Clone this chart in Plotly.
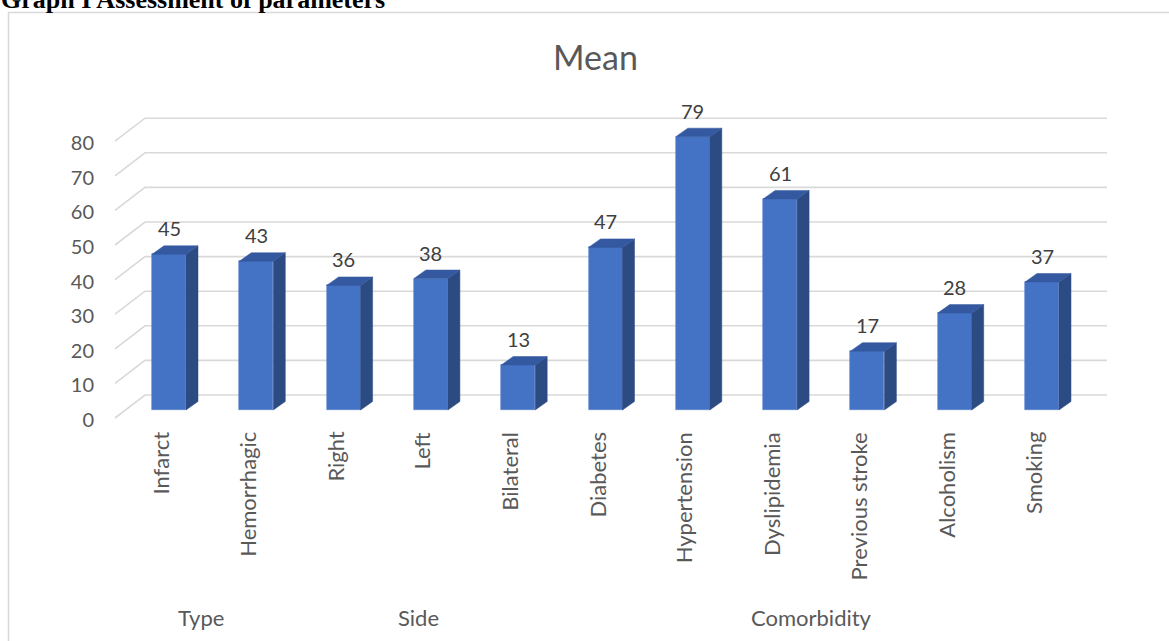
import plotly.graph_objects as go

# ---------------- data ----------------
categories = ["Infarct", "Hemorrhagic", "Right", "Left", "Bilateral", "Diabetes",
              "Hypertension", "Dyslipidemia", "Previous stroke", "Alcoholism", "Smoking"]
values = [45, 43, 36, 38, 13, 47, 79, 61, 17, 28, 37]
group_names = ["Type", "Side", "Comorbidity"]
group_sizes = [2, 3, 6]
y_ticks = [0, 10, 20, 30, 40, 50, 60, 70, 80]
chart_title = "Mean"
page_header = "Graph I Assessment of parameters"

# ---------------- geometry (pixels) ----------------
W, H = 1169, 641
L, R, T, B = 100, 1130, 80, 440          # plot area
PX0, PXSTEP = 169.0, 87.3                # pixel of category 0, pixels per category
PY0, PYUNIT = 410.0, 3.46                # pixel of value 0 on bar plane, px per unit


def px2x(px):
    return (px - PX0) / PXSTEP


def py2y(py):
    return (PY0 - py) / PYUNIT


def px2paper(px):
    return (px - L) / (R - L)


def py2paper(py):
    return (B - py) / (B - T)


# 3-D offsets (data units)
wall_front_left = px2x(115)
wall_back_left = px2x(145)
wall_back_right = px2x(1107)
front_dy = py2y(418)
back_dy = py2y(395)
label_dy = py2y(420)
BW = 34 / PXSTEP
DX = 12 / PXSTEP
DY = 8.5 / PYUNIT

FONT = "Lato"
FRONT = "#4472C4"
SIDE = "#2C4B83"
TOP = "#3459A0"

fig = go.Figure()

# side faces and top faces
xs_side, ys_side, xs_top, ys_top = [], [], [], []
for i, v in enumerate(values):
    xr = i + BW / 2
    xl = i - BW / 2
    xs_side += [xr, xr + DX, xr + DX, xr, xr, None]
    ys_side += [0, DY, v + DY, v, 0, None]
    xs_top += [xl, xl + DX, xr + DX, xr, xl, None]
    ys_top += [v, v + DY, v + DY, v, v, None]

fig.add_trace(go.Scatter(x=xs_side, y=ys_side, mode="lines", fill="toself",
                         fillcolor=SIDE, line=dict(color=SIDE, width=0.5),
                         hoverinfo="skip", showlegend=False))
fig.add_trace(go.Scatter(x=xs_top, y=ys_top, mode="lines", fill="toself",
                         fillcolor=TOP, line=dict(color=TOP, width=0.5),
                         hoverinfo="skip", showlegend=False))

# front faces
fig.add_trace(go.Bar(x=list(range(len(categories))), y=values, width=BW,
                     marker=dict(color=FRONT, line=dict(color="#5B85CF", width=0.6)),
                     showlegend=False, hovertext=categories))

# gridlines (front diagonal + back wall)
for v in y_ticks:
    path = (f"M {wall_front_left},{v + front_dy} L {wall_back_left},{v + back_dy} "
            f"L {wall_back_right},{v + back_dy}")
    fig.add_shape(type="path", path=path, xref="x", yref="y", layer="below",
                  line=dict(color="#D9D9D9", width=1.6))

annotations = []
# value labels
for i, v in enumerate(values):
    annotations.append(dict(x=i, y=v, xref="x", yref="y", text=str(v), showarrow=False,
                            yanchor="bottom", xanchor="center", yshift=12,
                            font=dict(family=FONT, size=20, color="#404040")))
# category labels
for i, c in enumerate(categories):
    annotations.append(dict(x=i, y=0, xref="x", yref="y", text=c, showarrow=False,
                            textangle=-90, xanchor="center", yanchor="top",
                            xshift=-9, yshift=-20,
                            font=dict(family=FONT, size=22, color="#595959")))
# group labels
start = 0
for name, n in zip(group_names, group_sizes):
    centre = start + (n - 1) / 2
    annotations.append(dict(x=centre, y=py2paper(617), xref="x", yref="paper", text=name,
                            showarrow=False, xanchor="center", yanchor="middle", xshift=-12,
                            font=dict(family=FONT, size=22, color="#595959")))
    start += n
# chart title
annotations.append(dict(x=px2paper(595.5), y=py2paper(56), xref="paper", yref="paper",
                        text=chart_title, showarrow=False, xanchor="center", yanchor="middle",
                        font=dict(family=FONT, size=34, color="#595959")))
# page header (partly cut off at the top, as in the source)
annotations.append(dict(x=px2paper(-1), y=py2paper(-0.5), xref="paper", yref="paper",
                        text=f"<b>{page_header}</b>", showarrow=False,
                        xanchor="left", yanchor="middle",
                        font=dict(family="Liberation Serif", size=26, color="#000000")))

# chart frame
fig.add_shape(type="rect", xref="paper", yref="paper",
              x0=px2paper(8.5), y0=py2paper(12.5), x1=px2paper(1200), y1=py2paper(700),
              line=dict(color="#D9D9D9", width=1.5), layer="below")

fig.update_layout(
    width=W, height=H,
    margin=dict(l=L, r=W - R, t=T, b=H - B, pad=0),
    paper_bgcolor="white", plot_bgcolor="white",
    annotations=annotations,
    bargap=0,
    xaxis=dict(range=[px2x(L), px2x(R)], showgrid=False, zeroline=False,
               showticklabels=False, showline=False, fixedrange=True),
    yaxis=dict(range=[py2y(B), py2y(T)], showgrid=False, zeroline=False,
               showline=False, tickvals=[v + label_dy for v in y_ticks],
               ticktext=[str(v) for v in y_ticks], ticks="", ticklabelstandoff=5,
               tickfont=dict(family=FONT, size=20, color="#595959"), fixedrange=True),
    hovermode=False,
)

fig.write_html("out.html", config={"displayModeBar": False},
               post_script="document.body.style.margin='0';")
